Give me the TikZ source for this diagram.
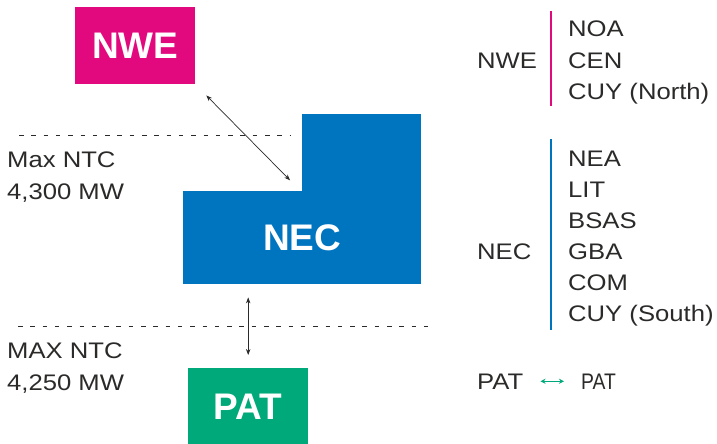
\documentclass[tikz,border=0pt]{standalone}
\usepackage{fontspec}
\setmainfont{Liberation Sans}[FakeStretch=1.14]
\newfontfamily\boxfont{Liberation Sans}
\newfontfamily\narrowfont{Liberation Sans}[FakeStretch=0.86]
\usetikzlibrary{arrows.meta}
\definecolor{nwecol}{HTML}{E2097F}
\definecolor{neccol}{HTML}{0075BF}
\definecolor{patcol}{HTML}{00A97A}
\definecolor{txtcol}{HTML}{2B2A29}

\begin{document}
\begin{tikzpicture}[x=1pt,y=-1pt,
    region/.style={rectangle,inner sep=0,text=white,font=\boxfont\bfseries\fontsize{37}{37}\selectfont},
    lbl/.style={inner sep=0,anchor=base west,text=txtcol,font=\fontsize{22.5}{22.5}\selectfont},
    link/.style={<->,>={Stealth[length=6pt,width=4.5pt]},line width=0.7pt,draw=txtcol},
    ntcline/.style={draw=txtcol,line width=0.8pt,dash pattern=on 4.5pt off 7.8pt}]
    \useasboundingbox (0,0) rectangle (717,444);

    % regions
    \node[region,fill=nwecol,minimum width=120pt,minimum height=77pt,anchor=north west] (nwe) at (75,7) {NWE};
    \node[region,fill=neccol,minimum width=119pt,minimum height=78pt,anchor=north west] (necup) at (302,114) {};
    \node[region,fill=neccol,minimum width=238pt,minimum height=93pt,anchor=north west] (nec) at (183,191) {NEC};
    \node[region,fill=patcol,minimum width=120pt,minimum height=77pt,anchor=north west] (pat) at (188,368) {PAT};

    % interconnections
    \draw[link,shorten <=15.5pt,shorten >=17pt] (nwe.south east) -- (necup.south west);
    \draw[link,shorten <=13pt,shorten >=13pt] (nec.south -| pat.north) -- (pat.north);

    % NTC limits
    \coordinate (ntc1w) at (19,135);
    \coordinate (ntc1e) at (290,135);
    \coordinate (ntc2w) at (18,326);
    \coordinate (ntc2e) at (433,326);
    \draw[ntcline] (ntc1w) -- (ntc1e);
    \draw[ntcline] (ntc2w) -- (ntc2e);
    \node[lbl] (ntc1a) at (7,167) {Max NTC};
    \node[lbl] (ntc1b) at (7,199) {4,300 MW};
    \node[lbl] (ntc2a) at (7,358) {MAX NTC};
    \node[lbl] (ntc2b) at (7,390) {4,250 MW};

    % key
    \node[lbl] (keynwe) at (477,68) {NWE};
    \draw[line width=2pt,nwecol] (551,11) -- (551,106);
    \foreach \name [count=\i] in {NOA,CEN,CUY (North)} {
        \node[lbl] (nwe_\i) at (568,6+31*\i) {\name};
    }
    \node[lbl] (keynec) at (477,259) {NEC};
    \draw[line width=2pt,neccol] (551,139) -- (551,330);
    \foreach \name [count=\i] in {NEA,LIT,BSAS,GBA,COM,CUY (South)} {
        \node[lbl] (nec_\i) at (568,135+31*\i) {\name};
    }
    \node[lbl] (keypat) at (477,389) {PAT};
    \node[lbl,font=\narrowfont\fontsize{22.5}{22.5}\selectfont] (keypat2) at (581,389) {PAT};
    \draw[<->,>={Stealth[length=5pt,width=5pt]},patcol,line width=1pt,shorten <=17pt,shorten >=17pt] (keypat.east) -- (keypat2.west);
\end{tikzpicture}
\end{document}
